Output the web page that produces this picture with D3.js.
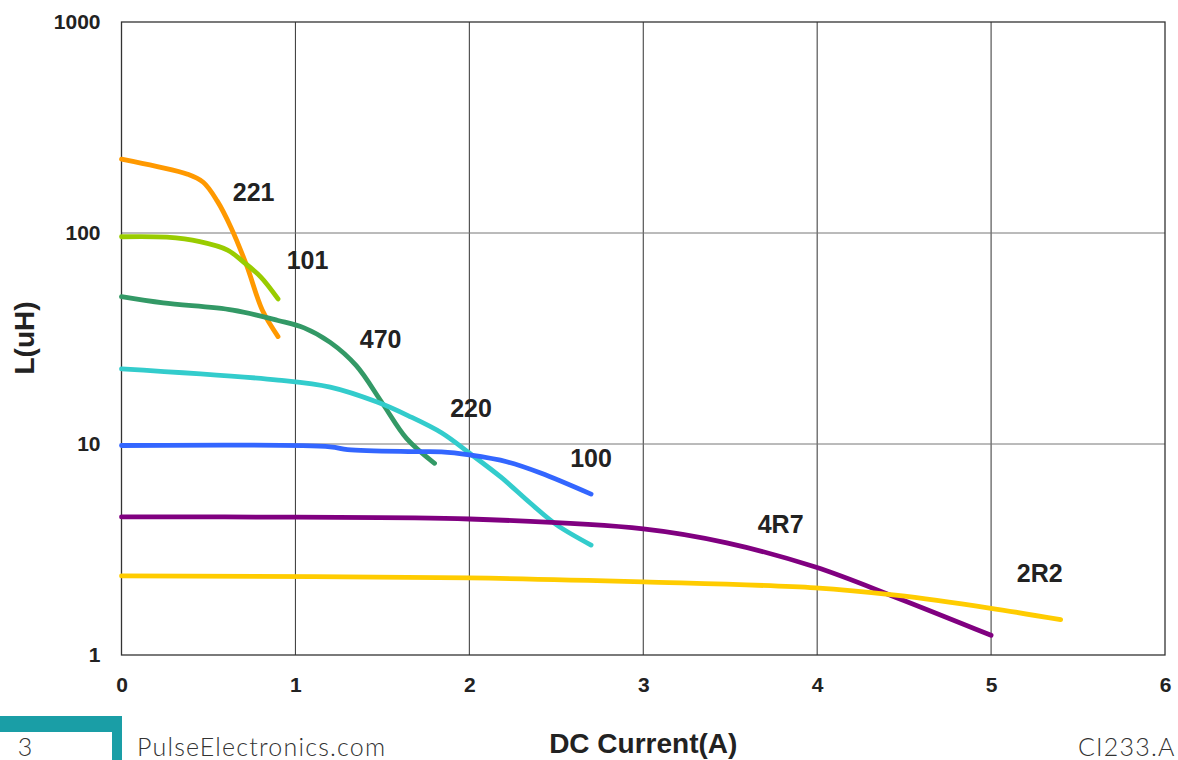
<!DOCTYPE html>
<html><head><meta charset="utf-8">
<script src="https://cdn.jsdelivr.net/npm/d3@7"></script>
<style>body{margin:0;background:#fff;}svg{display:block;}</style>
</head><body>
<svg id="c" width="1178" height="760"></svg>
<script>
const xTicks = [0,1,2,3,4,5,6];
const yTicks = [1,10,100,1000];
const seriesNames = ["221","101","470","220","100","4R7","2R2"];
const seriesColors = ["#ff9900","#99cc00","#339966","#33cccc","#3366ff","#800080","#ffcc00"];
const s221 = [[0,224],[0.2,207],[0.38,190],[0.47,174],[0.55,142],[0.63,106],[0.72,70],[0.81,43],[0.9,32.3]];
const s101 = [[0,96],[0.26,95.5],[0.45,91],[0.61,83],[0.70,73],[0.80,62],[0.9,48.7]];
const s470 = [[0,49.9],[0.24,46.6],[0.64,43.1],[0.9,38.5],[1.05,35.5],[1.2,30.3],[1.35,23.5],[1.5,15.6],[1.64,10.6],[1.8,8.1]];
const s220 = [[0,22.7],[0.9,20.1],[1.2,18.6],[1.47,15.8],[1.65,13.6],[1.84,11.3],[2.0,9.06],[2.18,6.98],[2.35,5.25],[2.5,4.15],[2.7,3.32]];
const s100 = [[0,9.84],[1.2,9.7],[1.3,9.4],[1.68,9.2],[1.84,9.17],[2.0,8.87],[2.22,8.22],[2.41,7.29],[2.7,5.79]];
const s4R7 = [[0,4.51],[1.0,4.5],[2.0,4.41],[3.0,3.96],[3.48,3.40],[3.99,2.61],[4.45,1.88],[5.0,1.24]];
const s2R2 = [[0,2.37],[2.0,2.32],[3.0,2.22],[3.99,2.08],[4.45,1.92],[4.99,1.67],[5.4,1.47]];
const seriesData = [s221,s101,s470,s220,s100,s4R7,s2R2];
const labelPos = [[0.76,156],[1.07,74],[1.49,31.5],[2.01,14.7],[2.7,8.6],[3.79,4.15],[5.28,2.45]];

const svg = d3.select("#c");
const L=121.5, R=1165, T=22, B=655;
const x = d3.scaleLinear().domain([0,6]).range([L,R]);
const y = d3.scaleLog().domain([1,1000]).range([B,T]);

// grid
svg.append("g").selectAll("line").data(xTicks.slice(1,-1)).join("line")
  .attr("x1",d=>x(d)).attr("x2",d=>x(d)).attr("y1",T).attr("y2",B)
  .attr("stroke","#333").attr("stroke-width",1);
svg.append("g").selectAll("line").data(yTicks.slice(1,-1)).join("line")
  .attr("x1",L).attr("x2",R).attr("y1",d=>y(d)).attr("y2",d=>y(d))
  .attr("stroke","#777").attr("stroke-width",1);
svg.append("rect").attr("x",L).attr("y",T).attr("width",R-L).attr("height",B-T)
  .attr("fill","none").attr("stroke","#333").attr("stroke-width",1.3);

// axes labels
const font = "Liberation Sans, Arial, sans-serif";
const xa = svg.append("g").attr("transform",`translate(0,${B+30})`)
  .call(d3.axisBottom(x).tickValues(xTicks).tickFormat(d3.format("d")).tickSize(0));
xa.select(".domain").remove();
xa.selectAll("text").attr("font-family",font).attr("font-weight","bold").attr("font-size",21).attr("fill","#222").attr("dy","0.35em").attr("y",0);
const ya = svg.append("g").attr("transform",`translate(${L-21},0)`)
  .call(d3.axisLeft(y).tickValues(yTicks).tickFormat(d3.format("d")).tickSize(0));
ya.select(".domain").remove();
ya.selectAll("text").attr("font-family",font).attr("font-weight","bold").attr("font-size",21).attr("fill","#222").attr("x",0);

// curves
const line = d3.line().x(d=>x(d[0])).y(d=>y(d[1])).curve(d3.curveCatmullRom.alpha(0.5));
svg.append("g").selectAll("path").data(seriesData).join("path")
  .attr("d",line).attr("fill","none")
  .attr("stroke",(d,i)=>seriesColors[i]).attr("stroke-width",4.8)
  .attr("stroke-linecap","round").attr("stroke-linejoin","round");

// series labels
svg.append("g").selectAll("text").data(seriesNames).join("text")
  .attr("x",(d,i)=>x(labelPos[i][0])).attr("y",(d,i)=>y(labelPos[i][1]))
  .attr("text-anchor","middle").attr("dy","0.35em")
  .attr("font-family",font).attr("font-weight","bold").attr("font-size",25).attr("fill","#222")
  .text(d=>d);

// titles
svg.append("text").attr("x",x(3)).attr("y",743).attr("dy","0.35em").attr("text-anchor","middle")
  .attr("font-family",font).attr("font-weight","bold").attr("font-size",28).attr("fill","#222")
  .text("DC Current(A)");
svg.append("text").attr("transform",`translate(24,338) rotate(-90)`).attr("dy","0.35em").attr("text-anchor","middle")
  .attr("font-family",font).attr("font-weight","bold").attr("font-size",28).attr("fill","#222")
  .text("L(uH)");

// footer
svg.append("rect").attr("x",0).attr("y",716).attr("width",122).attr("height",16).attr("fill","#1a9ea6");
svg.append("rect").attr("x",112).attr("y",716).attr("width",10).attr("height",44).attr("fill","#1a9ea6");
const ff = "Lato, 'Open Sans', sans-serif";
svg.append("text").attr("x",25).attr("y",756).attr("text-anchor","middle")
  .attr("font-family",ff).attr("font-weight",300).attr("font-size",25).attr("fill","#333").text("3");
svg.append("text").attr("x",137).attr("y",756).attr("letter-spacing",1.2)
  .attr("font-family",ff).attr("font-weight",300).attr("font-size",25).attr("fill","#333").text("PulseElectronics.com");
svg.append("text").attr("x",1078).attr("y",756).attr("letter-spacing",1.2)
  .attr("font-family",ff).attr("font-weight",300).attr("font-size",25).attr("fill","#333").text("CI233.A");
</script>
</body></html>
